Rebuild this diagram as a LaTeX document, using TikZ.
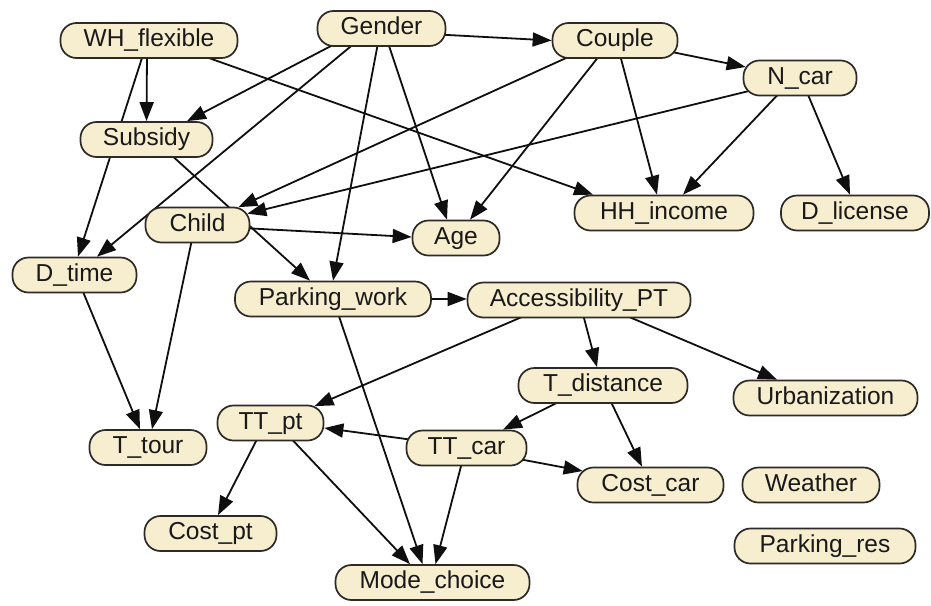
\documentclass[tikz,border=0pt]{standalone}
\usepackage{fontspec}
\setmainfont{Liberation Sans}
\usetikzlibrary{arrows.meta,backgrounds}
\definecolor{pillfill}{RGB}{247,237,207}
\definecolor{pillline}{RGB}{45,42,38}
\definecolor{inkline}{RGB}{15,15,15}
\begin{document}
\begin{tikzpicture}[x=1pt,y=-1pt,
  var/.style={draw=pillline,line width=1.7pt,fill=pillfill,rounded corners=16pt,
    minimum height=35pt,inner xsep=0pt,inner ysep=0pt,
    text height=17.5pt,text depth=5pt,
    font=\fontsize{24.5}{28}\selectfont,text=black!90},
  arr/.style={draw=inkline,line width=1.8pt,-{Triangle[length=19pt,width=14pt]}}]
\useasboundingbox (0,0) rectangle (931,605);

% variables
\node[var,minimum width=177pt] (WH)      at (149,40.5)  {WH\_flexible};
\node[var,minimum width=128pt] (Gender)  at (381.5,28.5){Gender};
\node[var,minimum width=125pt] (Couple)  at (615,40.5)  {Couple};
\node[var,minimum width=113pt] (Ncar)    at (800,78)    {N\_car};
\node[var,minimum width=132pt] (Subsidy) at (146.5,139.5){Subsidy};
\node[var,minimum width=104pt] (Child)   at (197.5,225) {Child};
\node[var,minimum width=87pt]  (Age)     at (456,238)   {Age};
\node[var,minimum width=179pt] (HH)      at (664,213)   {HH\_income};
\node[var,minimum width=148pt] (Dlic)    at (855,213)   {D\_license};
\node[var,minimum width=124pt] (Dtime)   at (74.5,275)  {D\_time};
\node[var,minimum width=196pt] (Pwork)   at (333,299)   {Parking\_work};
\node[var,minimum width=223pt] (AccPT)   at (579,300)   {Accessibility\_PT};
\node[var,minimum width=169pt] (Tdist)   at (603,385.5) {T\_distance};
\node[var,minimum width=184pt] (Urban)   at (825.5,398) {Urbanization};
\node[var,minimum width=120pt] (TTcar)   at (466.5,448) {TT\_car};
\node[var,minimum width=106pt] (TTpt)    at (270.5,423) {TT\_pt};
\node[var,minimum width=117pt] (Ttour)   at (148,447.5) {T\_tour};
\node[var,minimum width=146pt] (Costcar) at (650.5,485) {Cost\_car};
\node[var,minimum width=137pt] (Weather) at (811,485)   {Weather};
\node[var,minimum width=181pt] (Pres)    at (825,546)   {Parking\_res};
\node[var,minimum width=132pt] (Costpt)  at (210.5,533.5){Cost\_pt};
\node[var,minimum width=194pt] (Mode)    at (432.5,582.5){Mode\_choice};

% dependencies, drawn beneath the variables
\begin{pgfonlayer}{background}
\draw[arr] ([xshift=-2pt,yshift=4pt]WH.south) -- (Subsidy.north);
\draw[arr] ([xshift=-6pt,yshift=4pt]WH.south) -- ([xshift=3.5pt]Dtime.north);
\draw[arr] ([xshift=51pt,yshift=4pt]WH.south) -- ([xshift=-71pt]HH.north);

\draw[arr] ([xshift=-8pt,yshift=-6pt]Gender.east) -- (Couple.west);
\draw[arr] ([xshift=-44.5pt,yshift=4pt]Gender.south) -- ([xshift=40.5pt]Subsidy.north);
\draw[arr] ([xshift=-26.5pt,yshift=4pt]Gender.south) -- ([xshift=22.5pt]Dtime.north);
\draw[arr] ([xshift=-3.5pt,yshift=4pt]Gender.south) -- (Pwork.north);
\draw[arr] ([xshift=6.5pt,yshift=4pt]Gender.south) -- ([xshift=-9pt]Age.north);

\draw[arr] ([xshift=-14pt,yshift=-10pt]Couple.east) -- ([xshift=3pt,yshift=11pt]Ncar.west);
\draw[arr] ([xshift=-42pt,yshift=4pt]Couple.south) -- ([xshift=-12pt,yshift=-0.5pt]Child.north east);
\draw[arr] ([xshift=-15pt,yshift=4pt]Couple.south) -- ([xshift=14pt]Age.north);
\draw[arr] ([xshift=5pt,yshift=4pt]Couple.south) -- ([xshift=-7pt]HH.north);

\draw[arr] ([xshift=-32pt,yshift=10pt]Ncar.south) -- ([xshift=-3pt,yshift=-7pt]Child.north east);
\draw[arr] ([xshift=-20pt,yshift=4pt]Ncar.south) -- ([xshift=19pt]HH.north);
\draw[arr] ([xshift=7pt,yshift=4pt]Ncar.south) -- ([xshift=-5pt]Dlic.north);

\draw[arr] ([xshift=23.5pt,yshift=4pt]Subsidy.south) -- ([xshift=-23pt]Pwork.north);

\draw[arr] ([xshift=-8pt,yshift=-3pt]Child.east) -- ([yshift=1pt]Age.west);
\draw[arr] ([xshift=-5.5pt,yshift=4pt]Child.south) -- ([xshift=4pt]Ttour.north);
\draw[arr] ([xshift=7.5pt,yshift=4pt]Dtime.south) -- ([xshift=-8pt]Ttour.north);

\draw[arr] ([xshift=-4pt]Pwork.east) -- (AccPT.west |- Pwork.east);
\draw[arr] ([xshift=5pt,yshift=4pt]Pwork.south) -- ([xshift=-10pt]Mode.north);

\draw[arr] ([xshift=-51pt,yshift=4pt]AccPT.south) -- ([xshift=44pt,yshift=-1.5pt]TTpt.north);
\draw[arr] ([xshift=4pt,yshift=4pt]AccPT.south) -- ([xshift=-6pt]Tdist.north);
\draw[arr] ([xshift=44pt,yshift=4pt]AccPT.south) -- ([xshift=-48.5pt]Urban.north);

\draw[arr] ([xshift=-40pt,yshift=4pt]Tdist.south) -- ([xshift=36.5pt]TTcar.north);
\draw[arr] ([xshift=7pt,yshift=4pt]Tdist.south) -- ([xshift=-8.5pt]Costcar.north);

\draw[arr] ([xshift=8pt,yshift=8pt]TTcar.west) -- ([yshift=-5pt]TTpt.east);
\draw[arr] ([xshift=-14pt,yshift=-10pt]TTcar.east) -- ([xshift=6pt,yshift=14pt]Costcar.west);
\draw[arr] ([xshift=-4.5pt,yshift=4pt]TTcar.south) -- ([xshift=3pt]Mode.north);

\draw[arr] ([xshift=-12.5pt,yshift=4pt]TTpt.south) -- ([xshift=7.5pt]Costpt.north);
\draw[arr] ([xshift=19.5pt,yshift=4pt]TTpt.south) -- ([xshift=-22.5pt]Mode.north);
\end{pgfonlayer}
\end{tikzpicture}
\end{document}
